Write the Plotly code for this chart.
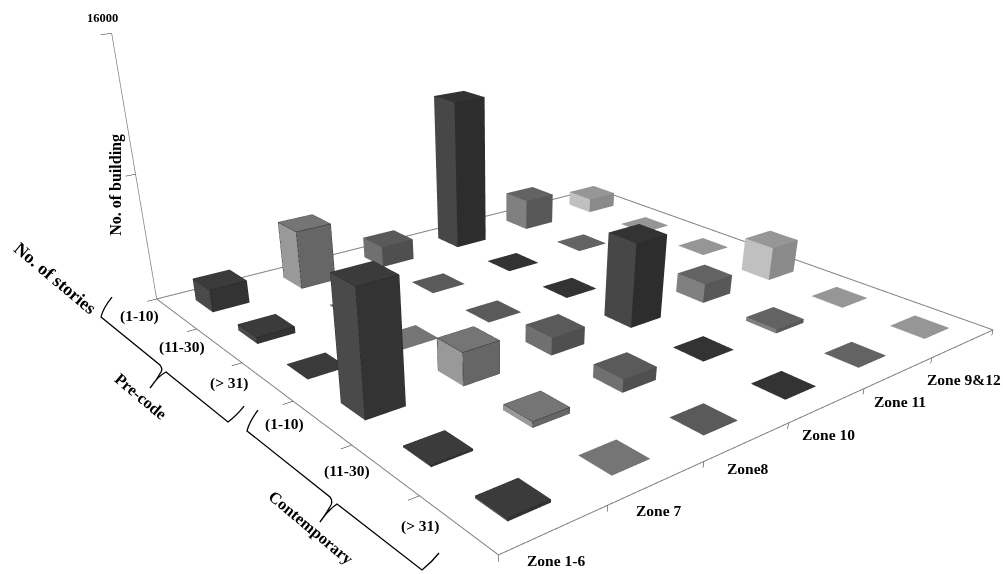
import plotly.graph_objects as go

# The scene is taller than the page window so the 45-degree field of view of the
# 3D camera gives a long-lens look; everything drawn sits in the upper part.
WIDTH, HEIGHT = 1003, 930
ZMAX = 16000
ZLOW = 800
BAR = 0.40

zones = ["Zone 1-6", "Zone 7", "Zone8", "Zone 10", "Zone 11", "Zone 9&12"]
stories = ["(1-10)", "(11-30)", "(> 31)", "(1-10)", "(11-30)", "(> 31)"]
precode_1_10 = [1450, 3800, 1400, 10000, 2100, 1000]
precode_11_30 = [400, 30, 30, 30, 30, 30]
precode_31 = [30, 30, 30, 30, 30, 30]
contemporary_1_10 = [7300, 2000, 1100, 5300, 1250, 2200]
contemporary_11_30 = [100, 350, 800, 30, 250, 30]
contemporary_31 = [150, 30, 30, 30, 30, 30]
rows = [precode_1_10, precode_11_30, precode_31, contemporary_1_10, contemporary_11_30, contemporary_31]

top_colors = ["#3b3b3b", "#757575", "#5a5a5a", "#333333", "#636363", "#969696"]
left_colors = ["#4a4a4a", "#999999", "#707070", "#474747", "#808080", "#c0c0c0"]
right_colors = ["#333333", "#666666", "#4f4f4f", "#2d2d2d", "#585858", "#8a8a8a"]
outlined = {(0, 0), (0, 1), (1, 0), (3, 0), (3, 1), (4, 0), (4, 1), (5, 0)}

fig = go.Figure()


def add_bar(r, z, v):
    """One box for story row r and zone z, with flat-shaded visible faces."""
    y0 = 6 - r - 0.5 - BAR / 2
    y1 = y0 + BAR
    x0 = z + 0.5 - BAR / 2
    x1 = x0 + BAR
    xs = [x0, x1, x1, x0] * 2
    ys = [y0, y0, y1, y1] * 2
    zs = [0] * 4 + [v] * 4
    tris = [(4, 5, 6), (4, 6, 7), (0, 3, 7), (0, 7, 4), (0, 1, 5), (0, 5, 4)]
    cols = [top_colors[z]] * 2 + [left_colors[z]] * 2 + [right_colors[z]] * 2
    fig.add_trace(go.Mesh3d(x=xs, y=ys, z=zs, i=[t[0] for t in tris], j=[t[1] for t in tris], k=[t[2] for t in tris],
                            facecolor=cols, flatshading=True, hoverinfo="skip",
                            lighting=dict(ambient=1, diffuse=0, specular=0, roughness=1, fresnel=0)))
    if (r, z) in outlined:
        order = [3, 7, 4, 0, 1, 5, 4, None, 5, 6, 7]
        fig.add_trace(go.Scatter3d(
            x=[None if i is None else xs[i] for i in order],
            y=[None if i is None else ys[i] for i in order],
            z=[None if i is None else zs[i] for i in order],
            mode="lines", line=dict(color="#222222", width=1), hoverinfo="skip"))


# frame on the floor and the count axis
fig.add_trace(go.Scatter3d(x=[0, 0, 6, 6, 0], y=[6, 0, 0, 6, 6], z=[0] * 5, mode="lines",
                           line=dict(color="#808080", width=2), hoverinfo="skip"))
fig.add_trace(go.Scatter3d(x=[0, 0], y=[6, 6], z=[0, ZMAX], mode="lines",
                           line=dict(color="#808080", width=1.5), hoverinfo="skip"))

# tick marks
tx, ty, tz = [], [], []
for i in range(0, 6):
    tx += [0, -0.1, None]; ty += [6 - i, 6 - i, None]; tz += [0, 0, None]
for i in range(0, 7):
    tx += [i, i, None]; ty += [0, 0, None]; tz += [0, -350, None]
for v in (8000, 16000):
    tx += [0, -0.1, None]; ty += [6, 6, None]; tz += [v, v, None]
fig.add_trace(go.Scatter3d(x=tx, y=ty, z=tz, mode="lines", line=dict(color="#222222", width=1), hoverinfo="skip"))

for r, vals in enumerate(rows):
    for z, v in enumerate(vals):
        add_bar(r, z, v)

label = dict(family="Liberation Serif", size=15.5, color="black")
scene_notes = []
for i, t in enumerate(stories):
    scene_notes.append(dict(x=0, y=5.5 - i, z=0, text="<b>%s</b>" % t, showarrow=False, xshift=-37, yshift=-2, font=label))
zone_drop = [31, 28, 27, 29, 29, 36]
for i, t in enumerate(zones):
    scene_notes.append(dict(x=i + 0.5, y=0, z=0, text="<b>%s</b>" % t, showarrow=False, xshift=1, yshift=-zone_drop[i], font=label))
scene_notes.append(dict(x=0, y=6, z=8000, text="<b>No. of building</b>", textangle=-90, showarrow=False, xshift=-19, yshift=-11,
                        font=dict(family="Liberation Serif", size=16, color="black")))
scene_notes.append(dict(x=0, y=6, z=16000, text="<b>16000</b>", showarrow=False, xshift=-9, yshift=15,
                        font=dict(family="Liberation Serif", size=12.5, color="black")))


def px(x, y):
    return "%.4f %.4f" % (x / WIDTH, 1 - y / HEIGHT)


def path_of(seq):
    return " ".join(cmd + " " + " ".join(px(*q) for q in pts) for cmd, pts in seq)


# curly brackets grouping the story rows by code era
brace_a = [("M", [(112, 297)]), ("Q", [(103, 308), (101, 317)]), ("L", [(160, 365)]), ("Q", [(163, 369), (161, 372)]), ("Q", [(156, 381), (150, 388)]),
           ("Q", [(158, 376), (166, 372)]), ("L", [(228, 422)]), ("Q", [(238, 414), (244, 406)])]
brace_b = [("M", [(258, 410)]), ("Q", [(249, 422), (247, 431)]), ("L", [(330, 497)]), ("Q", [(333, 501), (331, 505)]), ("Q", [(326, 514), (320, 522)]),
           ("Q", [(328, 510), (337, 504)]), ("L", [(422, 570)]), ("Q", [(432, 562), (439, 553)])]
shapes = [dict(type="path", xref="paper", yref="paper", path=path_of(q), line=dict(color="black", width=1.3)) for q in (brace_a, brace_b)]

side = dict(family="Liberation Serif", size=16.5, color="black")
common = dict(textangle=40, showarrow=False, xref="paper", yref="paper", xanchor="center", yanchor="middle", font=side)
page_notes = [
    dict(x=55 / WIDTH, y=1 - 278 / HEIGHT, text="<b>No. of stories</b>", **dict(common, font=dict(side, size=18))),
    dict(x=141 / WIDTH, y=1 - 396 / HEIGHT, text="<b>Pre-code</b>", **common),
    dict(x=311 / WIDTH, y=1 - 527 / HEIGHT, text="<b>Contemporary</b>", **common),
]

hidden = dict(visible=False)
fig.update_layout(
    width=WIDTH, height=HEIGHT, margin=dict(l=0, r=0, t=0, b=0), showlegend=False,
    paper_bgcolor="white", annotations=page_notes, shapes=shapes,
    scene=dict(
        domain=dict(x=[0, 1], y=[0, 1]),
        xaxis=dict(hidden, range=[-1, 7]),
        yaxis=dict(hidden, range=[0, 6]),
        zaxis=dict(hidden, range=[-ZLOW, ZMAX]),
        aspectmode="manual",
        aspectratio=dict(x=8 / 6, y=0.94311, z=0.44756),
        camera=dict(eye=dict(x=-1.13252, y=-1.28662, z=0.53477),
                    center=dict(x=-0.45635, y=-0.42118, z=-0.12437),
                    up=dict(x=0, y=0, z=1),
                    projection=dict(type="perspective")),
        annotations=scene_notes,
    ),
)
fig.write_html("out.html", config=dict(displayModeBar=False),
               post_script="document.documentElement.style.overflow='hidden';document.body.style.overflow='hidden';")
